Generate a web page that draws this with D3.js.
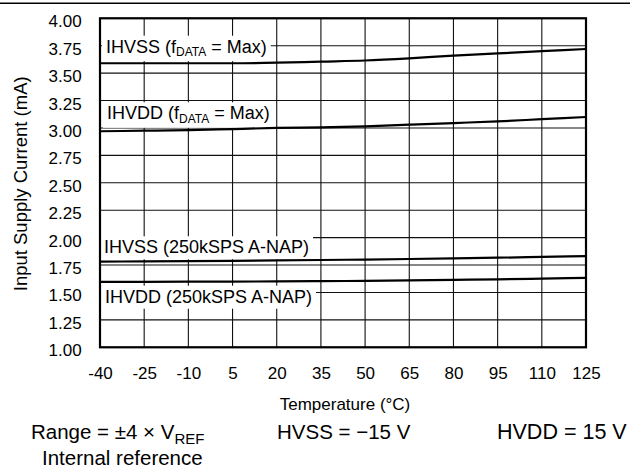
<!DOCTYPE html>
<html>
<head>
<meta charset="utf-8">
<script src="https://cdn.jsdelivr.net/npm/d3@7"></script>
<style>
  body { margin: 0; background: #fff; }
  text { font-family: "Liberation Sans", Arial, sans-serif; fill: #000; }
</style>
</head>
<body>
<div id="chart"></div>
<script>
// temperature points (°C)
const temps = [-40, -25, -10, 5, 20, 35, 50, 65, 80, 95, 110, 125];
// supply currents (mA)
const ihvssMax  = [3.59, 3.59, 3.59, 3.59, 3.595, 3.605, 3.615, 3.635, 3.66, 3.68, 3.70, 3.72];
const ihvddMax  = [2.97, 2.975, 2.98, 2.99, 3.00, 3.005, 3.015, 3.03, 3.045, 3.06, 3.08, 3.10];
const ihvssNap  = [1.782, 1.783, 1.785, 1.788, 1.792, 1.796, 1.80, 1.805, 1.811, 1.817, 1.824, 1.832];
const ihvddNap  = [1.597, 1.597, 1.598, 1.599, 1.601, 1.603, 1.606, 1.61, 1.615, 1.62, 1.626, 1.633];
const yTicks = [1.00, 1.25, 1.50, 1.75, 2.00, 2.25, 2.50, 2.75, 3.00, 3.25, 3.50, 3.75, 4.00];

const W = 630, H = 472;
const margin = {top: 18.3, right: 44, bottom: 124.7, left: 100},
    width = W - margin.left - margin.right,
    height = H - margin.top - margin.bottom;

const root = d3.select("#chart").append("svg")
    .attr("width", W)
    .attr("height", H);

// rule along the top of the figure
root.append("line")
    .attr("x1", 0).attr("x2", W)
    .attr("y1", 3.3).attr("y2", 3.3)
    .attr("stroke", "#000").attr("stroke-width", 1.5);

const svg = root.append("g")
    .attr("transform", "translate(" + margin.left + "," + margin.top + ")");

const x = d3.scaleLinear().domain([-40, 125]).range([0, width]);
const y = d3.scaleLinear().domain([1, 4]).range([height, 0]);

// grid
svg.append("g")
    .selectAll("line.v")
    .data(temps)
    .enter().append("line")
    .attr("x1", d => x(d)).attr("x2", d => x(d))
    .attr("y1", 0).attr("y2", height)
    .attr("stroke", "#111").attr("stroke-width", 1.1);

svg.append("g")
    .selectAll("line.h")
    .data(yTicks)
    .enter().append("line")
    .attr("x1", 0).attr("x2", width)
    .attr("y1", d => y(d)).attr("y2", d => y(d))
    .attr("stroke", "#111").attr("stroke-width", 1.1);

// X axis labels (plain hyphen for negatives, like the original)
const xAxis = svg.append("g")
    .attr("transform", "translate(0," + height + ")")
    .call(d3.axisBottom(x).tickValues(temps).tickSize(0).tickPadding(0).tickFormat(d => String(d)));
xAxis.select(".domain").remove();
xAxis.selectAll("text")
    .attr("y", 32).attr("dy", null)
    .style("font-size", "17px")
    .style("font-family", "'Liberation Sans', Arial, sans-serif");

// Y axis labels
const yAxis = svg.append("g")
    .call(d3.axisLeft(y).tickValues(yTicks).tickSize(0).tickPadding(0).tickFormat(d3.format(".2f")));
yAxis.select(".domain").remove();
yAxis.selectAll("text")
    .attr("x", -18.3).attr("dy", "8.5px")
    .style("font-size", "17px")
    .style("font-family", "'Liberation Sans', Arial, sans-serif");

// labels with white boxes behind them
const labels = [
  {main: "IHVSS (f", sub: "DATA", tail: " = Max)", tx: 6, by: 52.7},
  {main: "IHVDD (f", sub: "DATA", tail: " = Max)", tx: 7, by: 119.3},
  {main: "IHVSS (250kSPS A-NAP)", sub: null, tail: null, tx: 4, by: 253.3},
  {main: "IHVDD (250kSPS A-NAP)", sub: null, tail: null, tx: 5, by: 302.7}
];

labels.forEach(l => {
  const g = svg.append("g");
  const rect = g.append("rect").attr("fill", "#fff");
  const t = g.append("text")
      .attr("x", l.tx)
      .attr("y", l.by - margin.top)
      .style("font-size", "18px");
  t.append("tspan").text(l.main);
  if (l.sub) {
    t.append("tspan").attr("dy", 3.5).style("font-size", "12px").text(l.sub);
    t.append("tspan").attr("dy", -3.5).text(l.tail);
  }
  const bb = t.node().getBBox();
  rect.attr("x", bb.x - 4).attr("y", bb.y - 1)
      .attr("width", bb.width + 8).attr("height", bb.height + 3);
});

// curves
const line = d3.line()
    .x((d, i) => x(temps[i]))
    .y(d => y(d))
    .curve(d3.curveMonotoneX);

[ihvssMax, ihvddMax, ihvssNap, ihvddNap].forEach(s => {
  svg.append("path")
      .datum(s)
      .attr("d", line)
      .attr("fill", "none")
      .attr("stroke", "#000")
      .attr("stroke-width", 2.2);
});

// frame
svg.append("rect")
    .attr("x", 0).attr("y", 0)
    .attr("width", width).attr("height", height)
    .attr("fill", "none")
    .attr("stroke", "#000").attr("stroke-width", 2.2);

// axis titles
root.append("text")
    .attr("x", margin.left + width / 2 + 2)
    .attr("y", 410)
    .attr("text-anchor", "middle")
    .style("font-size", "17px")
    .text("Temperature (°C)");

root.append("text")
    .attr("transform", "translate(27," + (margin.top + height / 2 + 1) + ")rotate(-90)")
    .attr("text-anchor", "middle")
    .style("font-size", "18.5px")
    .text("Input Supply Current (mA)");

// conditions
const note = root.append("text")
    .attr("x", 31).attr("y", 439.3)
    .style("font-size", "20.5px");
note.append("tspan").text("Range = ±4 × V");
note.append("tspan").attr("dy", 4.5).style("font-size", "15px").text("REF");

root.append("text")
    .attr("x", 42).attr("y", 465)
    .style("font-size", "20.5px")
    .text("Internal reference");

root.append("text")
    .attr("x", 277).attr("y", 439.3)
    .style("font-size", "20.5px")
    .text("HVSS = \u221215 V");

root.append("text")
    .attr("x", 497).attr("y", 439.3)
    .style("font-size", "21.5px")
    .text("HVDD = 15 V");
</script>
</body>
</html>
